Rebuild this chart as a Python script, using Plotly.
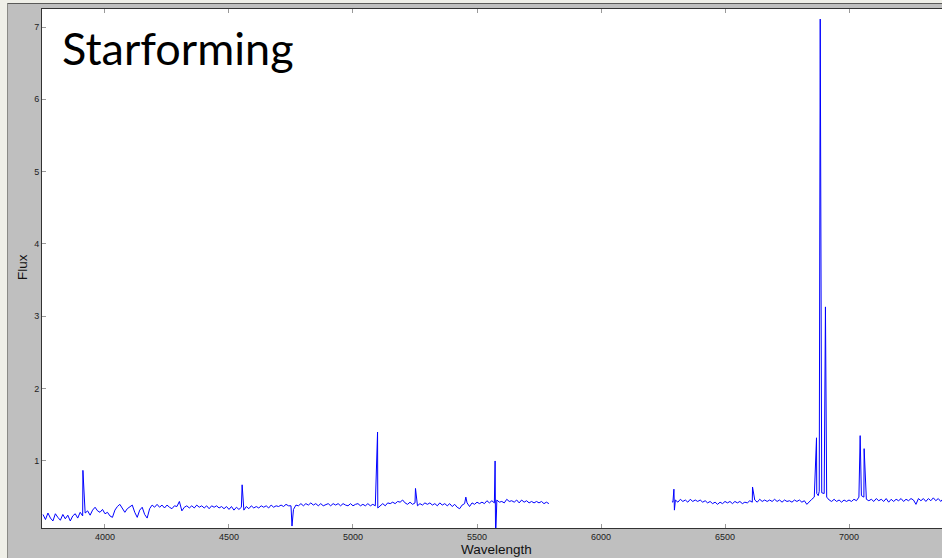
import numpy as np
import plotly.graph_objects as go

# ---- spectrum data -------------------------------------------------------
# blue arm: continuum sampled every 10 A from 3750 to 5790
wave_blue = np.arange(3750, 5800, 10)
flux_blue = [
    0.26, 0.19, 0.28, 0.21, 0.17, 0.27, 0.22, 0.18, 0.26, 0.20,  # 3750
    0.25, 0.17, 0.24, 0.27, 0.21, 0.29, 0.24, 0.28, 0.31, 0.25,  # 3850
    0.32, 0.36, 0.31, 0.29, 0.33, 0.27, 0.29, 0.24, 0.22, 0.32,  # 3950
    0.37, 0.40, 0.34, 0.29, 0.34, 0.37, 0.39, 0.29, 0.22, 0.32,  # 4050
    0.36, 0.26, 0.21, 0.34, 0.39, 0.36, 0.40, 0.36, 0.39, 0.35,  # 4150
    0.39, 0.36, 0.34, 0.38, 0.37, 0.44, 0.31, 0.36, 0.38, 0.35,  # 4250
    0.38, 0.35, 0.39, 0.36, 0.38, 0.35, 0.38, 0.34, 0.38, 0.36,  # 4350
    0.38, 0.35, 0.37, 0.34, 0.37, 0.33, 0.37, 0.32, 0.36, 0.33,  # 4450
    0.36, 0.32, 0.37, 0.34, 0.38, 0.35, 0.37, 0.35, 0.38, 0.36,  # 4550
    0.38, 0.35, 0.39, 0.36, 0.38, 0.37, 0.39, 0.37, 0.40, 0.38,  # 4650
    0.38, 0.33, 0.39, 0.38, 0.41, 0.38, 0.41, 0.39, 0.42, 0.39,  # 4750
    0.41, 0.38, 0.41, 0.38, 0.40, 0.41, 0.38, 0.41, 0.39, 0.41,  # 4850
    0.38, 0.41, 0.39, 0.38, 0.41, 0.38, 0.40, 0.41, 0.38, 0.40,  # 4950
    0.38, 0.41, 0.38, 0.40, 0.38, 0.35, 0.38, 0.41, 0.38, 0.42,  # 5050
    0.41, 0.43, 0.41, 0.44, 0.43, 0.46, 0.42, 0.40, 0.43, 0.40,  # 5150
    0.42, 0.38, 0.41, 0.39, 0.42, 0.40, 0.42, 0.39, 0.41, 0.38,  # 5250
    0.42, 0.39, 0.41, 0.38, 0.41, 0.37, 0.40, 0.36, 0.34, 0.39,  # 5350
    0.41, 0.42, 0.37, 0.42, 0.40, 0.43, 0.41, 0.43, 0.41, 0.45,  # 5450
    0.42, 0.45, 0.42, 0.46, 0.43, 0.44, 0.42, 0.47, 0.44, 0.45,  # 5550
    0.43, 0.46, 0.42, 0.46, 0.43, 0.45, 0.42, 0.44, 0.42, 0.44,  # 5650
    0.42, 0.44, 0.41, 0.43, 0.41,                                # 5750
]
# narrow features in the blue arm: [OII], Hbeta, [OIII], sky line
lines_blue_wave = [3911, 4553, 4754, 5099, 5252, 5455, 5573, 5575]
lines_blue_flux = [0.87, 0.67, 0.10, 1.40, 0.62, 0.50, 1.00, -0.10]

# red arm: continuum sampled every 10 A from 6290 to 7400
wave_red = np.arange(6290, 7410, 10)
flux_red = [
    0.43, 0.46, 0.43, 0.47, 0.44, 0.46, 0.43, 0.47, 0.44, 0.46,  # 6290
    0.44, 0.46, 0.43, 0.45, 0.42, 0.44, 0.41, 0.43, 0.40, 0.43,  # 6390
    0.41, 0.44, 0.42, 0.44, 0.41, 0.44, 0.42, 0.44, 0.41, 0.43,  # 6490
    0.42, 0.45, 0.43, 0.46, 0.43, 0.47, 0.44, 0.46, 0.44, 0.46,  # 6590
    0.44, 0.47, 0.44, 0.46, 0.43, 0.46, 0.44, 0.45, 0.43, 0.46,  # 6690
    0.44, 0.46, 0.43, 0.45, 0.40, 0.44, 0.47, 0.50, 0.55, 0.58,  # 6790
    0.56, 0.55, 0.50, 0.46, 0.44, 0.47, 0.44, 0.46, 0.43, 0.46,  # 6890
    0.44, 0.46, 0.44, 0.47, 0.45, 0.50, 0.52, 0.50, 0.47, 0.45,  # 6990
    0.47, 0.44, 0.48, 0.45, 0.47, 0.44, 0.48, 0.43, 0.47, 0.44,  # 7090
    0.47, 0.45, 0.48, 0.44, 0.47, 0.45, 0.48, 0.46, 0.40, 0.48,  # 7190
    0.45, 0.48, 0.44, 0.48, 0.45, 0.49, 0.45, 0.48, 0.44, 0.48,  # 7290
    0.45, 0.48,                                                  # 7390
]
# narrow features in the red arm: [OI], [NII], Halpha, [NII], [SII] doublet
lines_red_wave = [6286, 6294, 6296, 6611, 6869, 6876, 6884, 6905, 7045, 7061]
lines_red_flux = [0.44, 0.61, 0.32, 0.64, 1.32, 0.52, 7.11, 3.13, 1.35, 1.17]

x_ticks = [4000, 4500, 5000, 5500, 6000, 6500, 7000]
y_ticks = [1, 2, 3, 4, 5, 6, 7]


def merge(grid_w, grid_f, line_w, line_f):
    w = np.concatenate([np.asarray(grid_w, float), np.asarray(line_w, float)])
    f = np.concatenate([np.asarray(grid_f, float), np.asarray(line_f, float)])
    order = np.argsort(w, kind="stable")
    return w[order], f[order]


wb, fb = merge(wave_blue, flux_blue, lines_blue_wave, lines_blue_flux)
wr, fr = merge(wave_red, flux_red, lines_red_wave, lines_red_flux)

# ---- figure --------------------------------------------------------------
W, H = 942, 558
ML, MT, MB, MR = 42, 9, 30, 0
PW, PH = W - ML - MR, H - MT - MB


def px_x(px):
    return (px - ML) / PW


def px_y(py):
    return 1 - (py - MT) / PH


fig = go.Figure()
for w, f in ((wb, fb), (wr, fr)):
    fig.add_trace(go.Scatter(
        x=w, y=f, mode="lines",
        line=dict(color="#0000ff", width=1),
        showlegend=False, hoverinfo="skip",
    ))

tick_font = dict(family="Liberation Sans, Arial, sans-serif", size=9, color="#222222")

fig.update_layout(
    width=W, height=H,
    margin=dict(l=ML, r=MR, t=MT, b=MB, pad=0),
    paper_bgcolor="#bfbfbf",
    plot_bgcolor="#ffffff",
    xaxis=dict(
        range=[3746, 7375], tickvals=x_ticks,
        ticks="inside", ticklen=4, tickcolor="#999999",
        showline=True, linecolor="#333333", linewidth=1, mirror="ticks",
        showgrid=False, zeroline=False, tickfont=tick_font,
    ),
    yaxis=dict(
        range=[0.073, 7.249], tickvals=y_ticks,
        ticks="inside", ticklen=4, tickcolor="#999999",
        showline=True, linecolor="#333333", linewidth=1, mirror=False,
        showgrid=False, zeroline=False, tickfont=tick_font,
    ),
    shapes=[
        # light window frame on the left and top
        dict(type="rect", xref="paper", yref="paper", layer="below",
             x0=px_x(-5), x1=px_x(7), y0=px_y(H + 5), y1=px_y(-5),
             fillcolor="#efefe8", line=dict(width=0)),
        dict(type="rect", xref="paper", yref="paper", layer="below",
             x0=px_x(-5), x1=px_x(W + 5), y0=px_y(3), y1=px_y(-5),
             fillcolor="#efefe8", line=dict(width=0)),
        dict(type="line", xref="paper", yref="paper",
             x0=px_x(7.5), x1=px_x(7.5), y0=px_y(H + 5), y1=px_y(3.5),
             line=dict(color="#8a8a86", width=1)),
        dict(type="line", xref="paper", yref="paper",
             x0=px_x(7.5), x1=px_x(W + 5), y0=px_y(3.5), y1=px_y(3.5),
             line=dict(color="#5a5a58", width=1)),
    ],
    annotations=[
        dict(text="Starforming", xref="paper", yref="paper",
             x=px_x(60), y=px_y(19), xanchor="left", yanchor="top",
             showarrow=False,
             font=dict(family="Lato, Open Sans, sans-serif", size=45, color="#000000")),
        dict(text="Wavelength", xref="paper", yref="paper",
             x=px_x(496), y=px_y(549), xanchor="center", yanchor="middle",
             showarrow=False,
             font=dict(family="Liberation Sans, Arial, sans-serif", size=13.5, color="#111111")),
        dict(text="Flux", xref="paper", yref="paper", textangle=-90,
             x=px_x(22), y=px_y(267), xanchor="center", yanchor="middle",
             showarrow=False,
             font=dict(family="Liberation Sans, Arial, sans-serif", size=13.5, color="#111111")),
    ],
)

fig.write_html("out.html")
